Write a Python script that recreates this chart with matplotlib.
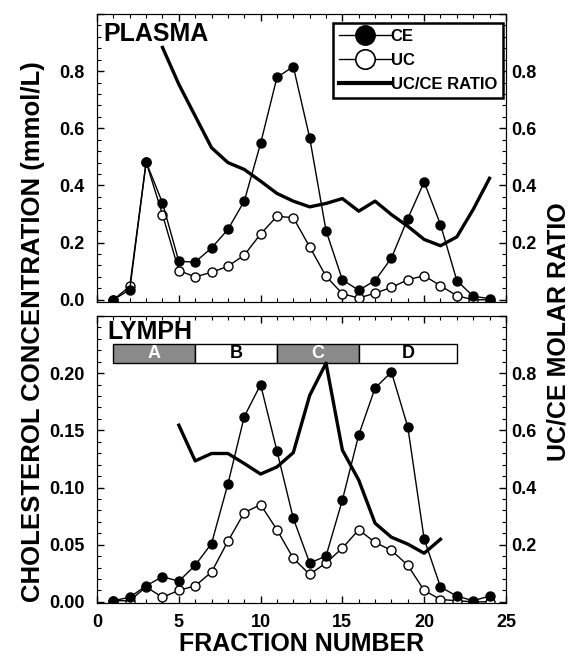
import numpy as np
import matplotlib
matplotlib.use('Agg')
import matplotlib.pyplot as plt
from matplotlib.lines import Line2D
from matplotlib.patches import Rectangle
from matplotlib.ticker import MultipleLocator

plt.rcParams['font.family'] = ['Liberation Sans', 'DejaVu Sans']
plt.rcParams['font.weight'] = 'bold'

# fractions 1..24
fraction = list(range(1, 25))

# plasma, mmol/L
plasma_ce = [0.0, 0.035, 0.482, 0.339, 0.134, 0.132, 0.181, 0.246, 0.345, 0.547, 0.778, 0.816,
             0.567, 0.242, 0.070, 0.033, 0.067, 0.146, 0.284, 0.412, 0.263, 0.067, 0.012, 0.004]
plasma_uc = [0.0, 0.047, 0.482, 0.298, 0.102, 0.080, 0.096, 0.117, 0.156, 0.230, 0.292, 0.287,
             0.185, 0.082, 0.021, 0.006, 0.023, 0.043, 0.070, 0.084, 0.049, 0.014, 0.0, 0.0]
plasma_ratio_x = list(range(4, 25))
plasma_ratio = [0.883, 0.754, 0.643, 0.532, 0.480, 0.456, 0.415, 0.372, 0.345, 0.325, 0.337,
                0.354, 0.310, 0.345, 0.298, 0.257, 0.211, 0.189, 0.220, 0.316, 0.425]

# lymph, mmol/L
lymph_ce = [0.001, 0.004, 0.014, 0.022, 0.018, 0.032, 0.051, 0.103, 0.162, 0.190, 0.132, 0.073,
            0.034, 0.040, 0.089, 0.146, 0.187, 0.201, 0.153, 0.055, 0.013, 0.005, 0.001, 0.005]
lymph_uc = [0.001, 0.001, 0.013, 0.004, 0.010, 0.014, 0.026, 0.053, 0.078, 0.085, 0.063, 0.038,
            0.024, 0.034, 0.047, 0.063, 0.052, 0.045, 0.032, 0.010, 0.002, 0.001, 0.0, 0.0]
lymph_ratio_x = list(range(5, 22))
lymph_ratio = [0.618, 0.493, 0.519, 0.519, 0.484, 0.447, 0.472, 0.522, 0.722, 0.835, 0.531,
               0.426, 0.275, 0.226, 0.202, 0.170, 0.219]

# pooled fraction bands
band_edges = [1, 6, 11, 16, 22]
band_labels = ['A', 'B', 'C', 'D']
band_colors = ['#8a8a8a', 'white', '#8a8a8a', 'white']
band_text = ['white', 'black', 'white', 'black']

fig = plt.figure(figsize=(5.71, 6.60), dpi=100)
ax1 = fig.add_axes([0.170, 0.5424, 0.716, 0.4364])
ax2 = fig.add_axes([0.170, 0.0864, 0.716, 0.4348])


def style(ax, tw, ymaj, ymin, fmt, show_x):
    ax.set_xlim(0, 25)
    ax.xaxis.set_major_locator(MultipleLocator(5))
    ax.xaxis.set_minor_locator(MultipleLocator(1))
    ax.yaxis.set_major_locator(MultipleLocator(ymaj))
    ax.yaxis.set_minor_locator(MultipleLocator(ymin))
    ax.tick_params(which='both', direction='in', top=True, right=False, labelsize=13)
    ax.tick_params(which='major', length=5, width=1)
    ax.tick_params(which='minor', length=3, width=0.8)
    ax.tick_params(axis='y', pad=9)
    ax.tick_params(axis='x', pad=8, labelbottom=show_x)
    ax.yaxis.set_major_formatter(fmt)
    tw.yaxis.set_major_locator(MultipleLocator(0.2))
    tw.yaxis.set_minor_locator(MultipleLocator(0.04))
    tw.tick_params(which='both', direction='in', labelsize=13, pad=4)
    tw.tick_params(which='major', length=5, width=1)
    tw.tick_params(which='minor', length=3, width=0.8)
    tw.yaxis.set_major_formatter(lambda v, p: '%.1f' % v if 0.1 < v < 0.9 else '')
    for a in (ax, tw):
        for lab in a.get_xticklabels() + a.get_yticklabels():
            lab.set_fontweight('bold')


# PLASMA
ax1.plot(fraction, plasma_uc, '-o', color='black', mfc='white', mec='black', ms=6.5, mew=1, lw=1)
ax1.plot(fraction, plasma_ce, '-o', color='black', mfc='black', ms=6.5, lw=1)
ax1.set_ylim(-0.008, 1.0)
tw1 = ax1.twinx()
tw1.plot(plasma_ratio_x, plasma_ratio, color='black', lw=2.4)
tw1.set_ylim(-0.008, 1.0)
style(ax1, tw1, 0.2, 0.04, lambda v, p: '%.1f' % v if v < 0.9 else '', False)
ax1.text(0.015, 0.972, 'PLASMA', transform=ax1.transAxes, fontsize=18, fontweight='bold', va='top')

handles = [Line2D([], [], color='black', lw=1, marker='o', mfc='black', ms=14),
           Line2D([], [], color='black', lw=1, marker='o', mfc='white', mec='black', ms=14, mew=1.2),
           Line2D([], [], color='black', lw=3)]
leg = tw1.legend(handles, ['CE', 'UC', 'UC/CE RATIO'], loc='upper right', bbox_to_anchor=(0.993, 0.969),
                 borderaxespad=0, fancybox=False, edgecolor='black', framealpha=1,
                 prop={'weight': 'bold', 'size': 12}, handlelength=3.1, handletextpad=0.0,
                 labelspacing=0.55, borderpad=0.35)
leg.get_frame().set_linewidth(1.8)

# LYMPH
ax2.plot(fraction, lymph_uc, '-o', color='black', mfc='white', mec='black', ms=6.5, mew=1, lw=1)
ax2.plot(fraction, lymph_ce, '-o', color='black', mfc='black', ms=6.5, lw=1)
ax2.set_ylim(-0.001, 0.25)
tw2 = ax2.twinx()
tw2.plot(lymph_ratio_x, lymph_ratio, color='black', lw=2.4)
tw2.set_ylim(-0.004, 1.0)
style(ax2, tw2, 0.05, 0.01, lambda v, p: '%.2f' % v if v < 0.22 else '', True)
ax2.text(0.025, 0.985, 'LYMPH', transform=ax2.transAxes, fontsize=18, fontweight='bold', va='top')

for i in range(len(band_labels)):
    x0, x1 = band_edges[i], band_edges[i + 1]
    ax2.add_patch(Rectangle((x0, 0.2087), x1 - x0, 0.0165, facecolor=band_colors[i],
                            edgecolor='black', lw=1, zorder=3))
    ax2.text((x0 + x1) / 2, 0.2169, band_labels[i], ha='center', va='center',
             color=band_text[i], fontsize=13, fontweight='bold', zorder=4)

ax2.set_xlabel('FRACTION NUMBER', fontsize=18, fontweight='bold', labelpad=1)
fig.text(0.058, 0.497, 'CHOLESTEROL CONCENTRATION (mmol/L)', rotation=90, ha='center', va='center',
         fontsize=18.5, fontweight='bold')
fig.text(0.978, 0.497, 'UC/CE MOLAR RATIO', rotation=90, ha='center', va='center',
         fontsize=18, fontweight='bold')

fig.savefig('out.png', dpi=100)
